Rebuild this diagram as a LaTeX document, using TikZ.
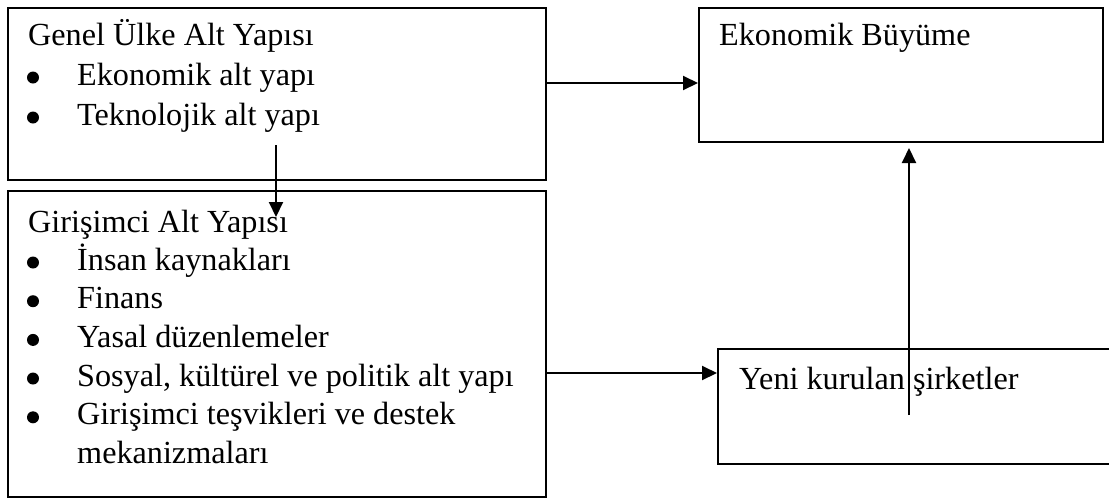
\documentclass[tikz,border=0pt]{standalone}
\usepackage{fontspec}
\setmainfont{Liberation Serif}
\usetikzlibrary{arrows.meta}
\begin{document}
\begin{tikzpicture}[x=1pt,y=-1pt,
  box/.style={draw, line width=1.8pt, inner sep=0pt, anchor=north west},
  txt/.style={anchor=base west, inner sep=0pt, font=\fontsize{32.2}{38}\selectfont},
  bul/.style={circle, fill, inner sep=0pt, minimum size=12pt},
  conn/.style={line width=2pt, -{Triangle[length=15pt,width=14pt]}}]
\useasboundingbox (0,0) rectangle (1109,499);
% boxes
\node[box, minimum width=538pt, minimum height=172pt] (A) at (7,7) {};
\node[box, minimum width=538pt, minimum height=306pt] (B) at (7,190) {};
\node[box, minimum width=404pt, minimum height=134pt] (C) at (698,7) {};
\node[box, minimum width=400pt, minimum height=115pt] (D) at (717,348) {};
% texts box A
\node[txt] (a0) at (28,45) {Genel Ülke Alt Yapısı};
\node[bul] (ab1) at (33,77.5) {};
\node[txt] (a1) at (77,85) {Ekonomik alt yapı};
\node[bul] (ab2) at (33,117.5) {};
\node[txt] (a2) at (77,125) {Teknolojik alt yapı};
% texts box B
\node[txt] (b0) at (28,232) {Girişimci Alt Yapısı};
\node[bul] (bb1) at (33,262.5) {};
\node[txt] (b1) at (77,270) {İnsan kaynakları};
\node[bul] (bb2) at (33,301.2) {};
\node[txt] (b2) at (77,308.7) {Finans};
\node[bul] (bb3) at (33,339.9) {};
\node[txt] (b3) at (77,347.4) {Yasal düzenlemeler};
\node[bul] (bb4) at (33,378.5) {};
\node[txt] (b4) at (77,386) {Sosyal, kültürel ve politik alt yapı};
\node[bul] (bb5) at (33,417.3) {};
\node[txt] (b5) at (77,424.8) {Girişimci teşvikleri ve destek};
\node[txt] (b6) at (77,463.5) {mekanizmaları};
% texts C, D
\node[txt] (c0) at (719,45) {Ekonomik Büyüme};
\node[txt] (d0) at (739,389) {Yeni kurulan şirketler};
% connector end points
\coordinate (pAC) at (545,83);
\coordinate (pAB1) at (276,145);
\coordinate (pAB2) at (276,217);
\coordinate (pBD) at (545,373);
\coordinate (pDC1) at (909,415);
\coordinate (pDC2) at (909,148);
% connectors
\draw[conn] (pAC) -- (pAC -| C.west);
\draw[conn] (pAB1) -- (pAB2);
\draw[conn] (pBD) -- (pBD -| D.west);
\draw[conn] (pDC1) -- (pDC2);
\end{tikzpicture}
\end{document}
